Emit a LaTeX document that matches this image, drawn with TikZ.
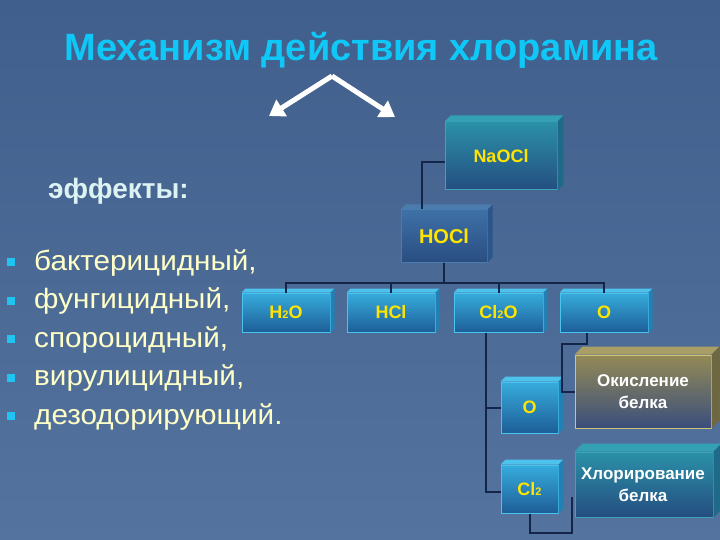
\documentclass[tikz,border=0pt]{standalone}
\usepackage{fontspec}
\setmainfont{Liberation Sans}
\newfontfamily\tah[FakeStretch=1.06]{Liberation Sans}
\usetikzlibrary{arrows.meta,calc}
\definecolor{bgtop}{HTML}{405F8C}
\definecolor{bgbot}{HTML}{54739E}
\definecolor{titlec}{HTML}{10C8F8}
\definecolor{effc}{HTML}{DDF2F2}
\definecolor{listc}{HTML}{FFFFC8}
\definecolor{bulc}{HTML}{20C4F0}
\definecolor{chemc}{HTML}{FFE400}
\definecolor{linec}{HTML}{13264A}
% box colours
\definecolor{naoT}{HTML}{2B90A8}\definecolor{naoB}{HTML}{244E80}\definecolor{naoD}{HTML}{3AA4B8}
\definecolor{naoTop}{HTML}{34A0B4}\definecolor{naoSide}{HTML}{1F6A88}
\definecolor{hoT}{HTML}{3E70A6}\definecolor{hoB}{HTML}{2A4E82}\definecolor{hoD}{HTML}{4A7CB0}
\definecolor{hoTop}{HTML}{4C7CAE}\definecolor{hoSide}{HTML}{2A568A}
\definecolor{rowT}{HTML}{36ACDC}\definecolor{rowB}{HTML}{1E5E98}\definecolor{rowD}{HTML}{48C4EE}
\definecolor{rowTop}{HTML}{4CC2EC}\definecolor{rowSide}{HTML}{2380B4}
\definecolor{oxT}{HTML}{948A56}\definecolor{oxB}{HTML}{3A4E7C}\definecolor{oxD}{HTML}{CFC478}
\definecolor{oxTop}{HTML}{A89E66}\definecolor{oxSide}{HTML}{6E6842}
\tikzset{
  cube/.style={rectangle, inner sep=0pt, line width=1pt, font=\bfseries\fontsize{18}{20}\selectfont, text=chemc},
  naobox/.style={cube, top color=naoT, bottom color=naoB, draw=naoD},
  hobox/.style={cube, top color=hoT, bottom color=hoB, draw=hoD},
  rowbox/.style={cube, top color=rowT, bottom color=rowB, draw=rowD},
  oxbox/.style={cube, top color=oxT, bottom color=oxB, draw=oxD, text=white, align=center, font=\bfseries\fontsize{17}{22}\selectfont},
  chbox/.style={cube, top color=naoT, bottom color=naoB, draw=naoD},
  conn/.style={draw=linec, line width=2pt},
  warrow/.style={draw=white, line width=5pt, -{Triangle[width=19pt,length=15pt]}},
  listtxt/.style={anchor=base west, inner sep=0pt, text=listc, font=\tah\fontsize{28}{32}\selectfont},
  bullet/.style={rectangle, fill=bulc, minimum size=8pt, inner sep=0pt},
}
\newcommand{\smsub}[1]{{\fontsize{11}{11}\selectfont #1}}
\begin{document}
\begin{tikzpicture}[x=1pt,y=-1pt]
\useasboundingbox (0,0) rectangle (720,540);
\shade[top color=bgtop, bottom color=bgbot] (0,0) rectangle (720,540);

% title
\node[text=titlec, font=\bfseries\fontsize{38}{42}\selectfont] (title) at (361,50) {Механизм действия хлорамина};

% white arrows
\coordinate (apex) at (332,76);
\coordinate (al) at (269,116);
\coordinate (ar) at (395,117);
\draw[warrow] (apex) -- (al);
\draw[warrow] (apex) -- (ar);

% effects
\node[anchor=base west, inner sep=0pt, text=effc, font=\bfseries\fontsize{28}{30}\selectfont] (eff) at (48,199) {эффекты:};
\foreach \i/\yy/\t in {1/270/{бактерицидный,},2/308.5/{фунгицидный,},3/347/{спороцидный,},4/385.5/{вирулицидный,},5/424/{дезодорирующий.}}{
  \node[bullet] (q\i) at (11,\yy-8) {};
  \node[listtxt] (b\i) at (34,\yy) {\t};
}

% boxes (front faces)
\node[naobox, minimum width=112pt, minimum height=68pt] (naocl) at (501,156) {NaOCl};
\node[hobox, minimum width=86pt, minimum height=52pt, font=\bfseries\fontsize{20}{22}\selectfont] (hocl) at (444,236) {HOCl};
\node[rowbox, minimum width=88pt, minimum height=39pt] (h2o) at (286,312.5) {H\smsub{2}O};
\node[rowbox, minimum width=88pt, minimum height=39pt] (hcl) at (391,312.5) {HCl};
\node[rowbox, minimum width=89pt, minimum height=39pt] (cl2o) at (498.5,312.5) {Cl\smsub{2}O};
\node[rowbox, minimum width=88pt, minimum height=39pt] (orow) at (604,312.5) {O};
\node[rowbox, minimum width=57pt, minimum height=51pt] (osm) at (529.5,407.5) {O};
\node[rowbox, minimum width=57pt, minimum height=48pt] (cl2) at (529.5,489) {Cl\smsub{2}};
\node[oxbox, minimum width=136pt, minimum height=73pt] (oxid) at (643,391.5) {Окисление\\белка};
\node[chbox, minimum width=138pt, minimum height=65pt] (chlor) at (644,484.5) {};
\node[text=white, align=center, font=\bfseries\fontsize{17}{22}\selectfont, inner sep=0pt] (chlortxt) at (643,484.5) {Хлорирование\\белка};

% 3D faces
\foreach \n/\d/\tc/\sc in {naocl/6/naoTop/naoSide, hocl/5/hoTop/hoSide, h2o/4/rowTop/rowSide, hcl/4/rowTop/rowSide, cl2o/4/rowTop/rowSide, orow/4/rowTop/rowSide, osm/5/rowTop/rowSide, cl2/5/rowTop/rowSide, oxid/8/oxTop/oxSide, chlor/8/naoTop/naoSide}{
  \fill[\tc] (\n.north west) -- ++(\d,-\d) -- ([shift={(\d,-\d)}]\n.north east) -- (\n.north east) -- cycle;
  \fill[\sc] (\n.north east) -- ++(\d,-\d) -- ([shift={(\d,-\d)}]\n.south east) -- (\n.south east) -- cycle;
}

% connectors
\draw[conn] ([yshift=-6pt]naocl.west) -| ([xshift=-22pt]hocl.north);
\foreach \c in {h2o,hcl,cl2o,orow}{
  \draw[conn] (hocl.south) -- ++(0,20) -| (\c.north);
}
\draw[conn] ([xshift=-13pt]cl2o.south) |- (osm.west);
\draw[conn] ([xshift=-13pt]cl2o.south) |- ([yshift=-3pt]cl2.west);
\draw[conn] ([xshift=-17pt]orow.south) -- ++(0,11) -| ([xshift=-13pt]oxid.west) -- (oxid.west);
\draw[conn] (cl2.south) -- ++(0,19) -| ([xshift=-3pt,yshift=-12.5pt]chlor.west);
\end{tikzpicture}
\end{document}
